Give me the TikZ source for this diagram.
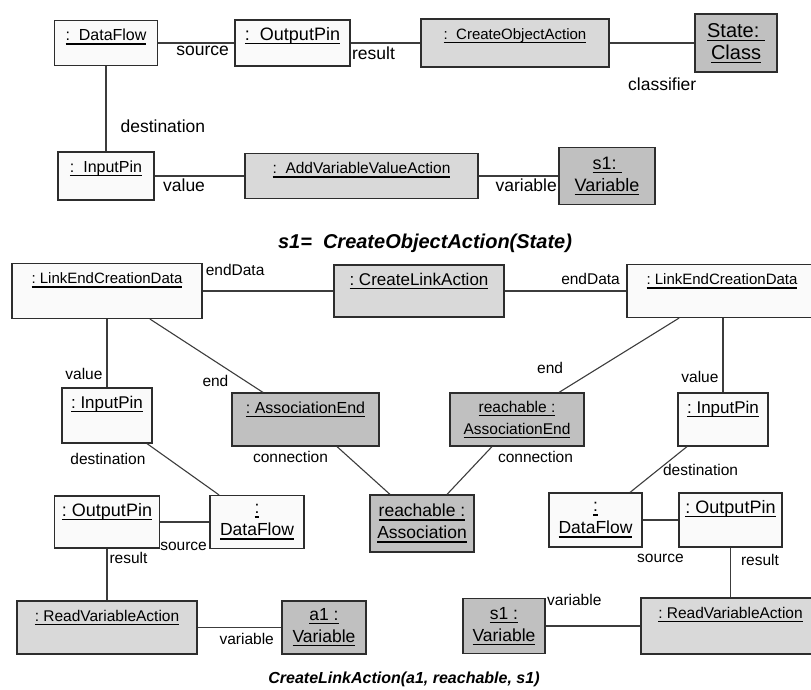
\documentclass[tikz,border=0pt]{standalone}
\usepackage{fontspec}
\setmainfont{Liberation Sans}
\usetikzlibrary{positioning,calc}
\definecolor{ofill}{RGB}{250,250,250}
\definecolor{afill}{RGB}{217,217,217}
\definecolor{cfill}{RGB}{192,192,192}
\definecolor{edge}{RGB}{45,45,45}
\definecolor{wcol}{RGB}{60,60,60}
\newcommand{\fs}[1]{\fontsize{#1}{22}\selectfont}
\newcommand{\uln}[1]{\vtop{\hbox{\raisebox{0pt}[\height][0pt]{#1}}\kern2.5pt\hrule height1.3pt}}
\tikzset{
  obj/.style={draw=edge, line width=1.2pt, fill=ofill, inner sep=0pt, align=center},
  act/.style={obj, fill=afill},
  cls/.style={obj, fill=cfill},
  sz/.style 2 args={minimum width=#1pt, minimum height=#2pt},
  hd/.style 2 args={label={[hdl, font=\fs{#1}]north:\uln{#2}}},
  hdl/.style={anchor=base, yshift=-21pt, inner sep=0pt},
  wire/.style={draw=wcol, line width=1.1pt},
  lbl/.style={font=\fs{17.5}, inner sep=1pt},
  lbs/.style={font=\fs{15.5}, inner sep=1pt},
  ttl/.style={font=\fs{#1}\bfseries\itshape, inner sep=0pt},
}
\begin{document}
\begin{tikzpicture}[x=1pt, y=-1pt]
\useasboundingbox (0,0) rectangle (811,690);
%---- upper diagram: s1 = CreateObjectAction(State)
\node[obj, sz={103}{45}, hd={16}{:~~DataFlow}] (df1) at (106,43) {};
\node[obj, sz={115}{46}, hd={18}{:~~OutputPin}] (op1) at (292.5,43) {};
\node[act, sz={188}{48}, hd={15}{:~~CreateObjectAction}] (coa) at (515,43) {};
\node[cls, sz={82}{58}, font=\fs{20}] (st) at (736,43) {\uln{State:~}\\\uln{Class}};
\node[obj, sz={96}{48}, hd={16}{:~~InputPin}] (ip1) at (106,176) {};
\node[act, sz={233}{45}, hd={15.5}{:~~AddVariableValueAction}] (avva) at (361.5,176) {};
\node[cls, sz={96}{57}, font=\fs{18}] (s1v) at (607,176) {\uln{s1:~}\\\uln{Variable}};
\draw[wire] (df1) -- node[lbl, pos=1, below left=2pt and 4pt] (l1) {source} (op1);
\draw[wire] (op1) -- node[lbl, pos=0, below right=2pt and 0pt] (l2) {result} (coa);
\draw[wire] (coa) -- (st);
\node[lbl, below left=4pt and -3pt] (l3) at (st.south west) {classifier};
\draw[wire] (df1) -- node[lbl, pos=.7, right=13pt] (l4) {destination} (ip1);
\draw[wire] (ip1) -- node[lbl, pos=0, below right=1pt and 7pt] (l5) {value} (avva);
\draw[wire] (avva) -- node[lbl, pos=1, below left=1pt and 0pt] (l6) {variable} (s1v);
\node[ttl=20] (t1) at (425,243) {s1=~~CreateObjectAction(State)};
%---- lower diagram: CreateLinkAction
\node[obj, sz={190}{55}, hd={15}{:~LinkEndCreationData}] (lecdL) at (107,291) {};
\node[act, sz={170}{52}, hd={17}{:~CreateLinkAction}] (cla) at (419,291) {};
\node[obj, sz={190}{53}, hd={15}{:~LinkEndCreationData}] (lecdR) at (722,291) {};
\draw[wire] (lecdL) -- (cla);
\node[lbs, anchor=north west] (l7) at ([xshift=2pt]lecdL.north east) {endData};
\draw[wire] (cla) -- node[lbs, pos=1, above left=5pt and 5pt] (l8) {endData} (lecdR);
% left end
\node[obj, sz={90}{55}, hd={17}{:~InputPin}] (ipL) at (107,415.5) {};
\node[cls, sz={147}{53}, hd={16}{:~AssociationEnd}] (aeL) at (305.5,419.5) {};
\draw[wire] (lecdL) -- node[lbs, pos=.81, left=3pt] (l9) {value} (ipL);
\draw[wire] ([xshift=43pt]lecdL.south) -- node[lbs, pos=.84, left=15pt] (l10) {end} ([xshift=-42.5pt]aeL.north);
% right end
\node[cls, sz={134}{53}, font=\fs{15.5}] (aeR) at (517,419.5) {\uln{reachable~:}\\\uln{AssociationEnd}};
\node[obj, sz={90}{53}, hd={17}{:~InputPin}] (ipR) at (723,419.5) {};
\draw[wire] ([xshift=-43pt]lecdR.south) -- node[lbs, pos=.67, left=34pt] (l11) {end} ([xshift=42pt]aeR.north);
\draw[wire] (ipR.north |- lecdR.south) -- node[lbs, pos=.79, left=3pt] (l12) {value} (ipR.north);
% association
\node[cls, sz={104}{57}, font=\fs{17.5}] (asc) at (422,523.5) {\uln{reachable~:}\\\uln{Association}};
\draw[wire] ([xshift=31.5pt]aeL.south) -- ([xshift=-32pt]asc.north);
\draw[wire] ([xshift=-25pt]aeR.south) -- ([xshift=25pt]asc.north);
\node[lbs, anchor=north] (l15) at ([xshift=-15pt,yshift=-3pt]aeL.south) {connection};
\node[lbs, anchor=north] (l16) at ([xshift=18.5pt,yshift=-3pt]aeR.south) {connection};
% left data flow
\node[obj, sz={94}{53}, font=\fs{17.5}] (dfL) at (257,522) {\uln{:}\\\uln{DataFlow}};
\node[obj, sz={105}{52}, hd={18}{:~OutputPin}] (opL) at (107,522) {};
\draw[wire] ([xshift=40pt]ipL.south) -- ([xshift=-38pt]dfL.north);
\node[lbs, below left=8pt and 6pt] (l13) at (ipL.south east) {destination};
\draw[wire] (opL) -- node[lbs, pos=1, below left=19pt and 1pt] (l14) {source} (dfL);
\node[act, sz={180}{53}, hd={15.5}{:~ReadVariableAction}] (rvaL) at (107,627.5) {};
\node[cls, sz={84}{53}, font=\fs{17.5}] (a1v) at (324,627.5) {\uln{a1~:}\\\uln{Variable}};
\draw[wire] (opL) -- node[lbs, pos=.19, right=1pt] (l19) {result} (rvaL);
\draw[wire] (rvaL) -- node[lbs, pos=1, below left=4pt and 6pt] (l20) {variable} (a1v);
% right data flow
\node[obj, sz={93}{54}, font=\fs{17.5}] (dfR) at (595.5,520) {\uln{:}\\\uln{DataFlow}};
\node[obj, sz={103}{54}, hd={18}{:~OutputPin}] (opR) at (730.5,520) {};
\draw[wire] ([xshift=-36pt]ipR.south) -- node[lbs, pos=.5, right=3pt] (l17) {destination} ([xshift=34.5pt]dfR.north);
\draw[wire] (dfR) -- node[lbs, midway, below=33pt] (l18) {source} (opR);
\node[act, sz={179}{56}, hd={15.5}{:~ReadVariableAction}] (rvaR) at (730.5,626) {};
\node[cls, sz={82}{55}, font=\fs{17.5}] (s1vR) at (504,626) {\uln{s1~:}\\\uln{Variable}};
\draw[wire] (opR) -- node[lbs, pos=.25, right=9pt] (l21) {result} (rvaR);
\draw[wire] (s1vR) -- node[lbs, pos=0, above right=19pt and 0pt] (l22) {variable} (rvaR);
\node[ttl=16] (t2) at (404,679) {CreateLinkAction(a1, reachable, s1)};
\end{tikzpicture}
\end{document}
